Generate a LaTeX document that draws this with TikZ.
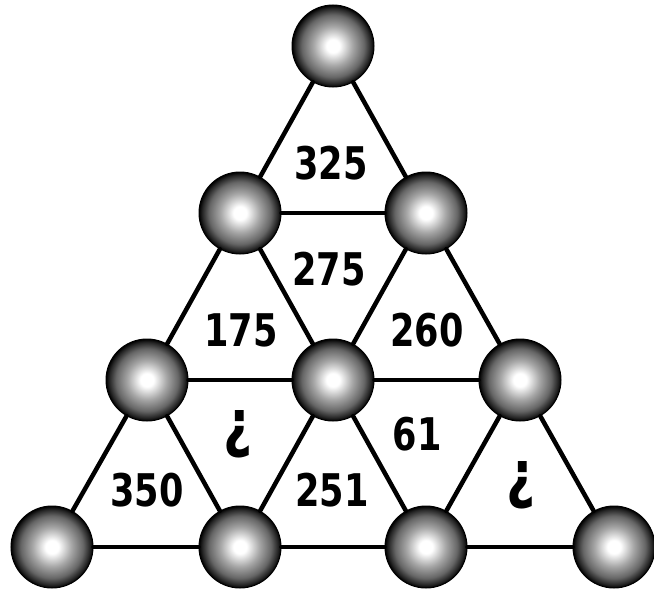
\documentclass[tikz,border=0pt]{standalone}
\usepackage{fontspec}
\usetikzlibrary{positioning}
\newfontfamily\numfont[FakeStretch=0.78]{DejaVu Sans}
\pgfdeclareradialshading{sphere}{\pgfpoint{0bp}{0bp}}{color(0bp)=(white); color(4bp)=(white); color(12bp)=(black!35); color(19bp)=(black!60); color(23bp)=(black!85); color(25bp)=(black); color(50bp)=(black)}

\begin{document}
\begin{tikzpicture}[x=1pt, y=-1pt,
    ball/.style={circle, minimum size=82pt, inner sep=0pt, shading=sphere, draw=black, line width=1pt},
    rod/.style={line width=4.5pt, line cap=round},
    lab/.style={font=\numfont\bfseries\fontsize{45}{45}\selectfont, inner sep=0pt},
    ask/.style={font=\numfont\bfseries\fontsize{64}{64}\selectfont, inner sep=0pt}]
\useasboundingbox (0,0) rectangle (654,589);
    % ---- balls, row by row
    \node[ball] (b0) at (333,46) {};
    \foreach \n/\x in {1/240,2/426} \node[ball] (b1\n) at (\x,213) {};
    \foreach \n/\x in {1/147,2/333,3/520} \node[ball] (b2\n) at (\x,380) {};
    \foreach \n/\x in {1/52,2/240,3/426,4/614} \node[ball] (b3\n) at (\x,547) {};
    % ---- rods between neighbours
    \foreach \a/\b in {b0/b11,b0/b12,b11/b12,
                       b11/b21,b11/b22,b12/b22,b12/b23,b21/b22,b22/b23,
                       b21/b31,b21/b32,b22/b32,b22/b33,b23/b33,b23/b34,
                       b31/b32,b32/b33,b33/b34}
        \draw[rod] (\a) -- (\b);
    % ---- numbers in the small triangles
    \node[lab] (t325) at (331,163) {325};
    \node[lab] (t275) at (329,269) {275};
    \node[lab] (t175) at (241,330) {175};
    \node[lab] (t260) at (427,330) {260};
    \node[ask] (tq1) at (238,434) {¿};
    \node[lab] (t61) at (417,434) {61};
    \node[lab] (t350) at (147,490) {350};
    \node[lab] (t251) at (332,490) {251};
    \node[ask] (tq2) at (521,485) {¿};
\end{tikzpicture}
\end{document}
